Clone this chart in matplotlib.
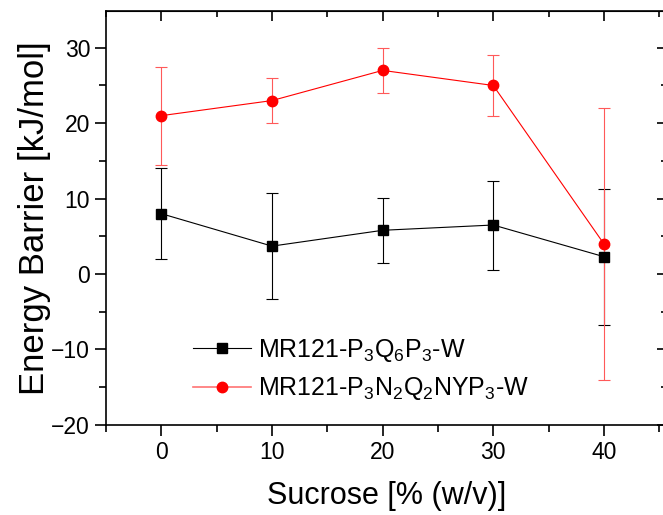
import numpy as np
import matplotlib.pyplot as plt
from matplotlib.lines import Line2D
from matplotlib.ticker import MultipleLocator

plt.rcParams['font.family'] = ['Liberation Sans', 'DejaVu Sans']
plt.rcParams['mathtext.fontset'] = 'custom'
plt.rcParams['mathtext.rm'] = 'Liberation Sans'
plt.rcParams['mathtext.it'] = 'Liberation Sans'

# 数据
sucrose = [0, 10, 20, 30, 40]
black_y = [8.0, 3.7, 5.8, 6.5, 2.3]
black_err = [6.0, 7.0, 4.3, 5.9, 9.0]
red_y = [21.0, 23.0, 27.0, 25.0, 4.0]
red_err = [6.5, 3.0, 3.0, 4.0, 18.0]
label_black = r'MR121-P$_3$Q$_6$P$_3$-W'
label_red = r'MR121-P$_3$N$_2$Q$_2$NYP$_3$-W'

fig = plt.figure(figsize=(6.63, 5.15), dpi=100)
ax = fig.add_axes([0.16, 0.175, 0.846, 0.804])

ax.errorbar(sucrose, black_y, yerr=black_err, color='black', marker='s',
            markersize=7, linewidth=0.8, elinewidth=0.8, capsize=4,
            capthick=0.8)
ax.errorbar(sucrose, red_y, yerr=red_err, color='red', marker='o',
            markersize=7.5, linewidth=0.8, elinewidth=0.8, capsize=4,
            capthick=0.8, ecolor=(1, 0.35, 0.35))

ax.set_xlim(-5, 45.7)
ax.set_ylim(-20, 34.9)
ax.xaxis.set_major_locator(MultipleLocator(10))
ax.xaxis.set_minor_locator(MultipleLocator(5))
ax.yaxis.set_major_locator(MultipleLocator(10))
ax.yaxis.set_minor_locator(MultipleLocator(5))

ax.tick_params(which='both', direction='out', labelsize=16.5, width=1.2)
ax.tick_params(which='major', length=8)
ax.tick_params(which='minor', length=5)

# 上边和右边的刻度朝内
ax2x = ax.secondary_xaxis('top')
ax2x.xaxis.set_major_locator(MultipleLocator(10))
ax2x.xaxis.set_minor_locator(MultipleLocator(5))
ax2x.tick_params(which='both', direction='in', labeltop=False, width=1.2)
ax2x.tick_params(which='major', length=7)
ax2x.tick_params(which='minor', length=4)
ax2y = ax.secondary_yaxis('right')
ax2y.yaxis.set_major_locator(MultipleLocator(10))
ax2y.yaxis.set_minor_locator(MultipleLocator(5))
ax2y.tick_params(which='both', direction='in', labelright=False, width=1.2)
ax2y.tick_params(which='major', length=7)
ax2y.tick_params(which='minor', length=4)

for s in ax.spines.values():
    s.set_linewidth(1.2)

ax.set_xlabel('Sucrose [% (w/v)]', fontsize=22, labelpad=12)
ax.set_ylabel('Energy Barrier [kJ/mol]', fontsize=25, labelpad=0)

handles = [
    Line2D([], [], color='black', marker='s', markersize=7, linewidth=0.8),
    Line2D([], [], color=(1, 0.45, 0.45), marker='o', markersize=7.5,
           markerfacecolor='red', markeredgecolor='red', linewidth=1.2),
]
ax.legend(handles, [label_black, label_red], loc='lower left',
          bbox_to_anchor=(0.115, 0.0), frameon=False, fontsize=18,
          handlelength=2.3, handletextpad=0.3, labelspacing=0.45)

fig.savefig('out.png', dpi=100)
